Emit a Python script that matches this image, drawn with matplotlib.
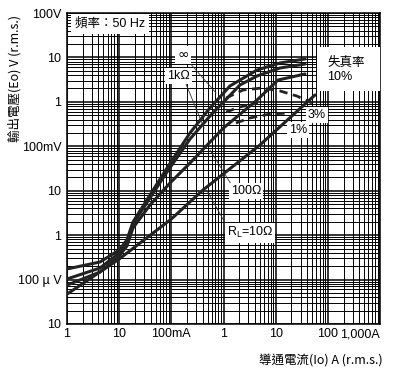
import matplotlib
matplotlib.use("Agg")
import matplotlib.pyplot as plt
from matplotlib.ticker import LogLocator, NullFormatter, FixedLocator

plt.rcParams['font.family'] = ['Liberation Sans', 'Noto Sans CJK TC', 'DejaVu Sans']
plt.rcParams['mathtext.fontset'] = 'custom'
plt.rcParams['mathtext.rm'] = 'Liberation Sans'

# =========================
# data: current (A) vs output voltage (V)
# =========================
inf_i = [0.001, 0.0043, 0.01, 0.0141, 0.0184, 0.0826, 0.228, 0.551, 1.33, 4.39, 12.1, 36.5]
inf_v = [1.73e-4, 2.49e-4, 4.63e-4, 7.8e-4, 1.98e-3, 0.0324, 0.2, 0.73, 2.28, 5.21, 7.5, 9.23]

k1_i = [0.001, 0.0043, 0.01, 0.0141, 0.0184, 0.0826, 0.228, 0.551, 2.07, 4.39, 12.1, 36.5]
k1_v = [1.03e-4, 1.82e-4, 3.96e-4, 7.0e-4, 1.78e-3, 0.0264, 0.146, 0.48, 2.4, 3.82, 5.78, 7.11]

r100_i = [0.001, 0.0043, 0.01, 0.0141, 0.0184, 0.039, 0.0942, 0.228, 1.0, 4.39, 11.1, 36.5]
r100_v = [7.5e-5, 1.48e-4, 3.4e-4, 5.7e-4, 1.45e-3, 4.77e-3, 0.0149, 0.042, 0.258, 1.1, 3.1, 4.24]

r10_i = [0.001, 0.01, 0.1, 0.405, 5.0, 56.8]
r10_v = [4.7e-5, 2.9e-4, 2.31e-3, 0.0104, 0.107, 1.43]

# distortion loci (dashed)
d3_i = [1.12, 2.37, 5.47, 12.1, 25.6, 49.7]
d3_v = [1.22, 1.85, 2.05, 1.76, 1.35, 0.94]

dm_i = [1.12, 2.07, 4.58]
dm_v = [0.59, 0.77, 0.94]

d1_i = [1.73, 3.22, 7.78, 18.8]
d1_v = [0.334, 0.434, 0.533, 0.561]

x_ticks = [1e-3, 1e-2, 1e-1, 1, 10, 100, 1000]
x_labels = ["1", "10", "100mA", "1", "10", "100", "1,000A"]
y_ticks = [1e-5, 1e-4, 1e-3, 1e-2, 1e-1, 1, 10, 100]
y_labels = ["10", "100 \u00b5 V", "1", "10", "100mV", "1", "10", "100V"]

# =========================
# figure
# =========================
fig = plt.figure(figsize=(3.97, 3.75), dpi=100)
ax = fig.add_axes([67/397, 1-324/375, 313/397, 311/375])
ax.set_xscale("log")
ax.set_yscale("log")
ax.set_xlim(1e-3, 1e3)
ax.set_ylim(1e-5, 1e2)

ax.xaxis.set_major_locator(FixedLocator(x_ticks))
ax.yaxis.set_major_locator(FixedLocator(y_ticks))
ax.xaxis.set_minor_locator(LogLocator(base=10, subs=range(2, 10), numticks=50))
ax.yaxis.set_minor_locator(LogLocator(base=10, subs=range(2, 10), numticks=50))
ax.xaxis.set_minor_formatter(NullFormatter())
ax.yaxis.set_minor_formatter(NullFormatter())
ax.set_xticklabels(x_labels, fontsize=9)
ax.set_yticklabels(y_labels, fontsize=9)
ax.get_xticklabels()[-1].set_horizontalalignment("right")
ax.get_xticklabels()[-1].set_x(1000)
ax.tick_params(which="both", length=0)
ax.tick_params(axis="x", pad=3)
ax.tick_params(axis="y", pad=4)

ax.grid(which="major", color="black", lw=1.1)
ax.grid(which="minor", color="black", lw=0.7)
ax.set_axisbelow(True)
for s in ax.spines.values():
    s.set_linewidth(1.1)

lc = "#222222"
kw = dict(color=lc, lw=2.2, solid_capstyle="round", solid_joinstyle="round", zorder=3)
ax.plot(inf_i, inf_v, **kw)
ax.plot(k1_i, k1_v, **kw)
ax.plot(r100_i, r100_v, **kw)
ax.plot(r10_i, r10_v, **kw)

dkw = dict(color=lc, lw=2.0, dashes=(3, 2), zorder=3)
ax.plot(d3_i, d3_v, **dkw)
ax.plot(dm_i, dm_v, **dkw)
ax.plot(d1_i, d1_v, **dkw)

# =========================
# labels / annotations
# =========================
wb = dict(facecolor="white", edgecolor="none", pad=1.5)
tr = ax.transAxes
ax.text(0.026, 0.965, "頻率：50 Hz", transform=tr, fontsize=9, va="center", ha="left",
        bbox=dict(facecolor="white", edgecolor="none", pad=3), zorder=5)

ax.add_patch(plt.Rectangle((0.799, 0.749), 0.201, 0.142, transform=tr,
                           facecolor="white", edgecolor="none", zorder=4))
ax.text(0.831, 0.839, "失真率", transform=tr, fontsize=9, va="center", ha="left", zorder=5)
ax.text(0.831, 0.794, "10%", transform=tr, fontsize=9, va="center", ha="left", zorder=5)

ax.text(0.799, 0.672, "3%", transform=tr, fontsize=9, va="center", ha="center", bbox=wb, zorder=5)
ax.text(0.738, 0.624, "1%", transform=tr, fontsize=9, va="center", ha="center", bbox=wb, zorder=5)

ax.text(0.371, 0.865, "\u221e", transform=tr, fontsize=10, va="center", ha="center", bbox=wb,
        zorder=5, family=["DejaVu Sans"])
ax.text(0.355, 0.797, "1kΩ", transform=tr, fontsize=9, va="center", ha="center", bbox=wb, zorder=5)
ax.text(0.572, 0.428, "100Ω", transform=tr, fontsize=9, va="center", ha="center", bbox=wb, zorder=5)
ax.text(0.585, 0.293, r"R$_{\mathregular{L}}$=10Ω", transform=tr, fontsize=9, va="center",
        ha="center", bbox=wb, zorder=5)

leaders = [((0.39, 0.842), (0.476, 0.743)),
           ((0.38, 0.772), (0.438, 0.63)),
           ((0.524, 0.45), (0.457, 0.559)),
           ((0.514, 0.309), (0.45, 0.424))]
for a, b in leaders:
    ax.plot([a[0], b[0]], [a[1], b[1]], transform=tr, color="#333333", lw=0.6, zorder=4)

fig.text(383/397, 1-360/375, "導通電流(Io) A (r.m.s.)", fontsize=9, ha="right", va="center",
         family=["Noto Sans CJK TC", "DejaVu Sans"])
fig.text(15/397, 1-78/375, "輸出電壓(Eo) V (r.m.s.)", fontsize=9, ha="center", va="center",
         rotation=90, family=["Noto Sans CJK TC", "DejaVu Sans"])

fig.savefig("out.png", dpi=100)
